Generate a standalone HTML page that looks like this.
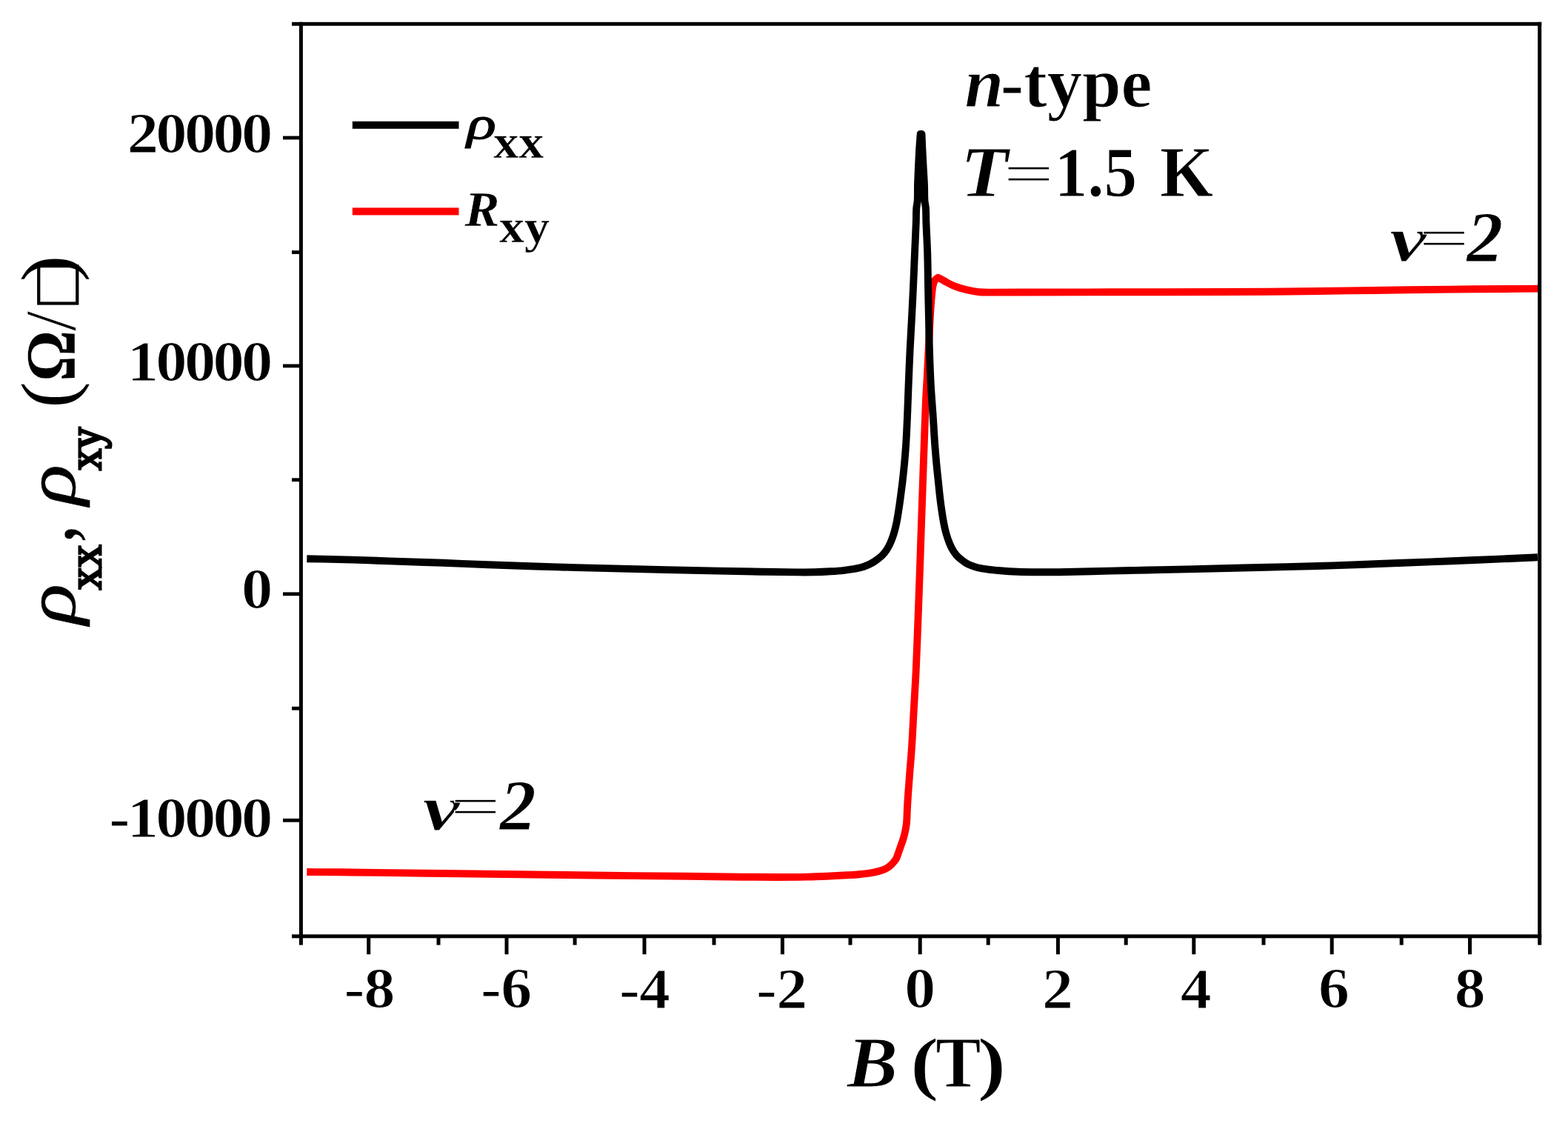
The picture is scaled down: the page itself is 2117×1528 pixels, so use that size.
<!DOCTYPE html>
<html lang="en"><head><meta charset="utf-8"><title>rho_xx and R_xy versus B, n-type, T=1.5 K</title>
<style>html,body{margin:0;padding:0;background:#fff;}body{width:2117px;height:1528px;overflow:hidden;}svg{display:block;}text{fill:#000;}</style></head><body>
<svg width="2117" height="1528" viewBox="0 0 2117 1528" font-family="'Liberation Serif',serif">
<rect x="0" y="0" width="2117" height="1528" fill="#fff"/>
<path d="M414.30,1177.00 C429.53,1177.10 444.58,1177.15 460.00,1177.30 C475.80,1177.45 489.42,1177.67 508.00,1177.90 C533.72,1178.21 568.54,1178.61 600.00,1179.00 C633.12,1179.41 668.34,1179.88 702.00,1180.30 C734.99,1180.71 765.18,1181.11 800.00,1181.50 C839.73,1181.95 891.05,1182.39 927.60,1182.80 C955.13,1183.11 978.09,1183.50 1000.00,1183.70 C1018.20,1183.87 1034.26,1184.03 1050.00,1184.00 C1064.08,1183.97 1078.10,1183.87 1090.00,1183.60 C1099.60,1183.39 1108.66,1183.01 1116.00,1182.70 C1121.38,1182.47 1125.25,1182.25 1130.00,1182.00 C1134.91,1181.75 1140.02,1181.50 1145.00,1181.20 C1149.95,1180.90 1155.33,1180.59 1159.80,1180.20 C1163.52,1179.87 1166.66,1179.54 1170.00,1179.10 C1173.25,1178.67 1176.43,1178.23 1179.60,1177.60 C1182.76,1176.97 1185.98,1176.28 1189.00,1175.30 C1191.94,1174.34 1195.01,1173.26 1197.50,1171.80 C1199.75,1170.48 1201.72,1168.66 1203.40,1167.10 C1204.81,1165.79 1205.90,1164.54 1207.00,1163.20 C1208.06,1161.91 1208.99,1160.90 1209.90,1159.20 C1211.21,1156.76 1212.32,1152.85 1213.50,1149.60 C1214.72,1146.26 1216.02,1142.53 1217.10,1139.40 C1218.02,1136.74 1218.85,1134.49 1219.60,1132.00 C1220.35,1129.52 1221.02,1127.01 1221.60,1124.50 C1222.18,1122.01 1222.68,1119.50 1223.10,1117.00 C1223.51,1114.53 1223.82,1112.67 1224.10,1109.60 C1224.55,1104.60 1224.67,1095.92 1225.00,1089.80 C1225.28,1084.51 1225.57,1079.95 1225.90,1075.00 C1226.23,1070.02 1226.60,1065.36 1227.00,1060.00 C1227.46,1053.81 1227.93,1047.34 1228.50,1040.00 C1229.20,1031.01 1230.13,1021.39 1230.90,1010.00 C1231.92,994.96 1232.84,974.83 1233.80,957.60 C1234.74,940.84 1235.72,926.27 1236.60,908.00 C1237.68,885.45 1238.66,857.28 1239.60,832.40 C1240.52,808.13 1241.45,782.03 1242.20,760.50 C1242.81,742.95 1243.22,729.75 1243.80,712.70 C1244.47,693.08 1245.30,669.44 1246.00,649.40 C1246.63,631.27 1247.15,615.32 1247.80,597.60 C1248.48,578.91 1249.24,556.09 1250.00,540.00 C1250.55,528.38 1251.11,521.01 1251.70,510.00 C1252.43,496.52 1253.23,480.00 1254.00,465.00 C1254.77,450.00 1255.51,432.34 1256.30,420.00 C1256.85,411.36 1257.35,404.30 1258.00,398.00 C1258.49,393.24 1258.78,389.03 1259.60,385.50 C1260.23,382.79 1260.74,380.34 1262.00,378.50 C1263.11,376.88 1264.93,376.03 1266.40,374.80 C1267.77,375.40 1268.95,375.81 1270.50,376.60 C1272.65,377.70 1275.36,379.57 1278.00,381.00 C1280.84,382.54 1283.96,384.19 1287.00,385.50 C1289.96,386.78 1293.03,387.87 1296.00,388.80 C1298.83,389.69 1301.50,390.32 1304.40,391.00 C1307.48,391.72 1310.84,392.44 1314.00,393.00 C1317.04,393.54 1319.52,394.02 1323.00,394.30 C1327.76,394.68 1333.14,394.55 1340.00,394.60 C1350.52,394.68 1363.09,394.54 1380.00,394.50 C1409.28,394.44 1457.77,394.38 1500.00,394.30 C1547.21,394.21 1606.77,394.17 1650.00,394.00 C1682.93,393.87 1708.34,393.77 1737.00,393.50 C1764.99,393.23 1792.59,392.77 1820.00,392.40 C1846.91,392.04 1872.55,391.64 1900.00,391.30 C1929.12,390.94 1960.08,390.58 1990.00,390.30 C2019.75,390.02 2049.33,389.83 2079.00,389.60" fill="none" stroke="#ff0000" stroke-width="9.9" stroke-linejoin="round" stroke-linecap="butt"/>
<path d="M414.30,754.20 C435.10,754.67 457.20,755.02 476.70,755.60 C493.91,756.11 507.47,756.78 525.30,757.40 C547.12,758.16 574.94,758.94 598.10,759.80 C619.25,760.58 636.38,761.47 658.80,762.30 C686.65,763.33 720.99,764.47 752.50,765.40 C784.58,766.34 815.54,767.08 849.60,767.90 C887.41,768.81 936.11,769.90 969.30,770.60 C992.94,771.10 1011.28,771.49 1030.00,771.80 C1046.12,772.07 1062.19,772.34 1075.00,772.40 C1084.55,772.44 1091.97,772.50 1100.00,772.30 C1107.47,772.11 1114.69,771.74 1121.60,771.30 C1127.98,770.89 1134.53,770.39 1140.00,769.80 C1144.43,769.32 1148.26,768.83 1152.00,768.20 C1155.31,767.64 1158.28,767.11 1161.30,766.30 C1164.27,765.50 1167.18,764.55 1170.00,763.40 C1172.81,762.25 1175.64,760.88 1178.20,759.40 C1180.63,758.00 1182.81,756.46 1185.00,754.80 C1187.21,753.13 1189.44,751.42 1191.40,749.40 C1193.41,747.33 1195.26,744.95 1196.90,742.50 C1198.56,740.02 1200.03,737.20 1201.30,734.60 C1202.47,732.20 1203.38,729.94 1204.30,727.50 C1205.25,724.98 1206.11,722.30 1206.90,719.70 C1207.68,717.14 1208.37,714.53 1209.00,712.00 C1209.60,709.57 1210.06,707.55 1210.60,704.80 C1211.32,701.15 1212.12,696.20 1212.80,692.00 C1213.45,687.94 1214.05,683.86 1214.60,680.00 C1215.11,676.41 1215.47,673.64 1216.00,669.60 C1216.74,663.97 1217.79,656.36 1218.60,649.40 C1219.46,641.99 1220.25,634.50 1221.00,626.40 C1221.83,617.34 1222.65,607.84 1223.30,597.60 C1224.05,585.91 1224.56,572.73 1225.10,560.00 C1225.66,546.87 1226.05,533.91 1226.60,520.00 C1227.20,504.82 1227.87,487.60 1228.60,472.40 C1229.28,458.41 1230.09,445.68 1230.80,432.10 C1231.52,418.22 1232.22,404.53 1232.90,390.00 C1233.63,374.41 1234.33,357.04 1235.00,341.50 C1235.62,327.13 1236.41,311.17 1236.80,300.00 C1237.06,292.45 1236.86,286.32 1237.30,281.00 C1237.62,277.13 1238.40,274.96 1238.70,271.00 C1239.14,265.29 1238.80,257.30 1239.00,250.00 C1239.22,242.03 1239.62,233.33 1240.00,225.00 C1240.38,216.67 1240.81,207.76 1241.30,200.00 C1241.73,193.23 1242.23,187.33 1242.70,181.00 L1244.50,181.00 C1244.77,187.33 1244.98,193.23 1245.30,200.00 C1245.67,207.76 1246.15,216.67 1246.60,225.00 C1247.05,233.33 1247.68,242.03 1248.00,250.00 C1248.29,257.30 1248.03,265.29 1248.50,271.00 C1248.82,274.96 1249.58,277.13 1249.90,281.00 C1250.34,286.32 1250.14,292.45 1250.40,300.00 C1250.79,311.17 1251.75,327.13 1252.20,341.50 C1252.68,357.03 1252.79,374.41 1253.10,390.00 C1253.39,404.53 1253.70,418.22 1254.00,432.10 C1254.30,445.68 1254.46,458.41 1254.90,472.40 C1255.37,487.61 1255.97,504.83 1256.80,520.00 C1257.56,533.92 1258.72,546.87 1259.60,560.00 C1260.45,572.73 1261.14,585.90 1262.00,597.60 C1262.75,607.84 1263.55,617.34 1264.40,626.40 C1265.16,634.50 1266.03,641.98 1266.80,649.40 C1267.52,656.35 1268.19,663.44 1268.90,669.60 C1269.50,674.81 1269.96,678.75 1270.70,684.00 C1271.60,690.35 1272.77,698.61 1274.00,705.00 C1275.04,710.44 1276.00,715.08 1277.40,720.00 C1278.80,724.91 1280.69,730.43 1282.40,734.50 C1283.71,737.61 1284.90,740.01 1286.40,742.50 C1287.84,744.89 1289.42,747.14 1291.20,749.20 C1292.96,751.24 1294.95,753.09 1297.00,754.80 C1299.02,756.49 1301.12,758.01 1303.40,759.40 C1305.77,760.85 1308.31,762.17 1311.00,763.30 C1313.83,764.49 1316.63,765.46 1320.00,766.30 C1324.12,767.33 1329.17,768.04 1334.00,768.70 C1339.14,769.40 1344.15,769.82 1350.00,770.30 C1357.08,770.88 1365.43,771.47 1373.50,771.80 C1382.06,772.15 1390.26,772.24 1400.00,772.30 C1411.97,772.37 1425.43,772.23 1440.00,772.00 C1457.54,771.72 1479.19,771.03 1498.00,770.60 C1515.81,770.20 1532.67,769.87 1550.00,769.50 C1567.33,769.13 1581.99,768.86 1602.00,768.40 C1629.33,767.77 1666.34,766.82 1699.00,766.00 C1732.33,765.16 1770.42,764.35 1800.00,763.40 C1823.18,762.65 1840.74,761.81 1862.00,761.00 C1884.51,760.14 1909.33,759.27 1931.50,758.40 C1951.84,757.60 1969.63,756.85 1990.00,756.00 C2012.29,755.07 2044.91,753.70 2060.00,753.00 C2067.22,752.66 2070.67,752.47 2076.00,752.20" fill="none" stroke="#000" stroke-width="9.9" stroke-linejoin="round" stroke-linecap="butt"/>
<g fill="#000">
<rect x="394" y="29.80" width="1687.20" height="5.0"/>
<rect x="394" y="1261.30" width="1687.20" height="5.0"/>
<rect x="403.90" y="29.80" width="5.0" height="1245.80"/>
<rect x="2076.20" y="29.80" width="5.0" height="1245.80"/>
<rect x="382" y="183.60" width="24.40" height="4.8"/>
<rect x="382" y="491.50" width="24.40" height="4.8"/>
<rect x="382" y="799.40" width="24.40" height="4.8"/>
<rect x="382" y="1104.90" width="24.40" height="4.8"/>
<rect x="394" y="338.10" width="12.40" height="4.8"/>
<rect x="394" y="645.30" width="12.40" height="4.8"/>
<rect x="394" y="953.80" width="12.40" height="4.8"/>
<rect x="495.20" y="1263.80" width="5" height="24.40"/>
<rect x="681.50" y="1263.80" width="5" height="24.40"/>
<rect x="867.50" y="1263.80" width="5" height="24.40"/>
<rect x="1053.90" y="1263.80" width="5" height="24.40"/>
<rect x="1239.70" y="1263.80" width="5" height="24.40"/>
<rect x="1425.90" y="1263.80" width="5" height="24.40"/>
<rect x="1609.30" y="1263.80" width="5" height="24.40"/>
<rect x="1795.70" y="1263.80" width="5" height="24.40"/>
<rect x="1982.00" y="1263.80" width="5" height="24.40"/>
<rect x="589.50" y="1263.80" width="5" height="11.80"/>
<rect x="773.60" y="1263.80" width="5" height="11.80"/>
<rect x="961.50" y="1263.80" width="5" height="11.80"/>
<rect x="1145.50" y="1263.80" width="5" height="11.80"/>
<rect x="1331.70" y="1263.80" width="5" height="11.80"/>
<rect x="1517.70" y="1263.80" width="5" height="11.80"/>
<rect x="1703.50" y="1263.80" width="5" height="11.80"/>
<rect x="1889.70" y="1263.80" width="5" height="11.80"/>
</g>
<text transform="translate(171.74,205.89) scale(1.0900,1)" font-size="77.60" font-weight="bold" letter-spacing="-3.4" stroke="#fff" stroke-width="1.1">20000</text>
<text transform="translate(171.74,513.59) scale(1.0900,1)" font-size="77.60" font-weight="bold" letter-spacing="-3.4" stroke="#fff" stroke-width="1.1">10000</text>
<text transform="translate(326.08,821.49) scale(1.0900,1)" font-size="77.60" font-weight="bold" letter-spacing="-3.4" stroke="#fff" stroke-width="1.1">0</text>
<text transform="translate(147.27,1129.59) scale(1.0900,1)" font-size="77.60" font-weight="bold" letter-spacing="-3.4" stroke="#fff" stroke-width="1.1">-10000</text>
<text transform="translate(464.48,1360.39) scale(1.0800,1)" font-size="77.60" font-weight="bold" letter-spacing="-0.8" stroke="#fff" stroke-width="1.1">-8</text>
<text transform="translate(649.12,1360.39) scale(1.0800,1)" font-size="77.60" font-weight="bold" letter-spacing="-0.8" stroke="#fff" stroke-width="1.1">-6</text>
<text transform="translate(836.07,1361.15) scale(1.0800,1)" font-size="77.60" font-weight="bold" letter-spacing="-0.8" stroke="#fff" stroke-width="1.1">-4</text>
<text transform="translate(1021.09,1361.15) scale(1.0800,1)" font-size="77.60" font-weight="bold" letter-spacing="-0.8" stroke="#fff" stroke-width="1.1">-2</text>
<text transform="translate(1221.35,1360.39) scale(1.0800,1)" font-size="77.60" font-weight="bold" letter-spacing="-0.8" stroke="#fff" stroke-width="1.1">0</text>
<text transform="translate(1407.09,1361.15) scale(1.0800,1)" font-size="77.60" font-weight="bold" letter-spacing="-0.8" stroke="#fff" stroke-width="1.1">2</text>
<text transform="translate(1593.85,1361.15) scale(1.0800,1)" font-size="77.60" font-weight="bold" letter-spacing="-0.8" stroke="#fff" stroke-width="1.1">4</text>
<text transform="translate(1780.04,1360.39) scale(1.0800,1)" font-size="77.60" font-weight="bold" letter-spacing="-0.8" stroke="#fff" stroke-width="1.1">6</text>
<text transform="translate(1963.85,1360.39) scale(1.0800,1)" font-size="77.60" font-weight="bold" letter-spacing="-0.8" stroke="#fff" stroke-width="1.1">8</text>
<text><tspan x="1143.65" y="1467.10" font-size="97.00" font-weight="bold" font-style="italic" textLength="68.26" lengthAdjust="spacingAndGlyphs" stroke="#fff" stroke-width="1">B</tspan> <tspan x="1229.03" y="1466.80" font-size="94.50" font-weight="bold" textLength="38.39" lengthAdjust="spacingAndGlyphs" stroke="#fff" stroke-width="1">(</tspan><tspan x="1263.17" y="1467.10" font-size="97.00" font-weight="bold" textLength="61.14" lengthAdjust="spacingAndGlyphs" stroke="#fff" stroke-width="1">T</tspan><tspan x="1319.68" y="1466.80" font-size="94.50" font-weight="bold" textLength="38.39" lengthAdjust="spacingAndGlyphs" stroke="#fff" stroke-width="1">)</tspan></text>
<text><tspan x="1302.46" y="143.60" font-size="94.50" font-weight="bold" font-style="italic" stroke="#fff" stroke-width="1">n</tspan><tspan x="1350.74" y="143.60" font-size="94.50" font-weight="bold" stroke="#fff" stroke-width="1">-type</tspan></text>
<text><tspan x="1296.74" y="265.30" font-size="97.50" font-weight="bold" font-style="italic" textLength="64.32" lengthAdjust="spacingAndGlyphs" stroke="#fff" stroke-width="1">T</tspan><tspan x="1354.88" y="258.85" font-size="73.93" font-weight="normal" textLength="68.03" lengthAdjust="spacingAndGlyphs" stroke="#fff" stroke-width="1">=</tspan><tspan x="1423.65" y="265.30" font-size="96.00" font-weight="bold" textLength="111.60" lengthAdjust="spacingAndGlyphs" stroke="#fff" stroke-width="1">1.5</tspan> <tspan x="1565.92" y="265.30" font-size="97.50" font-weight="bold" textLength="72.05" lengthAdjust="spacingAndGlyphs" stroke="#fff" stroke-width="1">K</tspan></text>
<text><tspan x="1876.25" y="352.26" font-size="86.00" font-weight="bold" font-style="italic" textLength="50.00" lengthAdjust="spacingAndGlyphs" stroke="#fff" stroke-width="1">ν</tspan><tspan x="1915.58" y="346.05" font-size="73.93" font-weight="normal" textLength="68.03" lengthAdjust="spacingAndGlyphs" stroke="#fff" stroke-width="1">=</tspan><tspan x="1980.20" y="352.90" font-size="98.00" font-weight="bold" font-style="italic" stroke="#fff" stroke-width="1">2</tspan></text>
<text><tspan x="570.75" y="1119.66" font-size="86.00" font-weight="bold" font-style="italic" textLength="50.00" lengthAdjust="spacingAndGlyphs" stroke="#fff" stroke-width="1">ν</tspan><tspan x="607.68" y="1113.20" font-size="73.93" font-weight="normal" textLength="68.03" lengthAdjust="spacingAndGlyphs" stroke="#fff" stroke-width="1">=</tspan><tspan x="674.70" y="1120.30" font-size="98.00" font-weight="bold" font-style="italic" stroke="#fff" stroke-width="1">2</tspan></text>
<rect x="475.8" y="163.8" width="143.7" height="10" fill="#000"/>
<rect x="475.8" y="280.4" width="143.7" height="10" fill="#ff0000"/>
<text><tspan x="630.29" y="187.30" font-size="62.00" font-style="italic" textLength="39.58" lengthAdjust="spacingAndGlyphs" stroke="#000" stroke-width="1.2">ρ</tspan><tspan x="666.33" y="213.00" font-size="63.50" font-weight="bold" textLength="67.95" lengthAdjust="spacingAndGlyphs" stroke="#fff" stroke-width="0.4">xx</tspan></text>
<text><tspan x="627.50" y="305.30" font-size="68.00" font-weight="bold" font-style="italic" textLength="46.94" lengthAdjust="spacingAndGlyphs" stroke="#fff" stroke-width="0.4">R</tspan><tspan x="674.04" y="326.80" font-size="63.00" font-weight="bold" textLength="67.72" lengthAdjust="spacingAndGlyphs" stroke="#fff" stroke-width="0.4">xy</tspan></text>
<text transform="rotate(-90)"><tspan x="-843.05" y="101.00" font-size="96.00" font-style="italic" textLength="54.83" lengthAdjust="spacingAndGlyphs" stroke="#000" stroke-width="0.7">ρ</tspan><tspan x="-795.93" y="136.40" font-size="63.00" textLength="60.48" lengthAdjust="spacingAndGlyphs" stroke="#000" stroke-width="3">xx</tspan><tspan x="-730.36" y="101.00" font-size="96.00" font-weight="bold" textLength="19.20" lengthAdjust="spacingAndGlyphs" stroke="#fff" stroke-width="0.5">,</tspan> <tspan x="-681.95" y="101.00" font-size="96.00" font-style="italic" textLength="54.83" lengthAdjust="spacingAndGlyphs" stroke="#000" stroke-width="0.7">ρ</tspan><tspan x="-634.81" y="136.40" font-size="63.00" textLength="58.28" lengthAdjust="spacingAndGlyphs" stroke="#000" stroke-width="3">xy</tspan> <tspan x="-550.68" y="99.00" font-size="101.50" textLength="35.49" lengthAdjust="spacingAndGlyphs">(</tspan><tspan x="-515.12" y="101.00" font-size="96.00" font-weight="bold" textLength="69.19" lengthAdjust="spacingAndGlyphs" stroke="#fff" stroke-width="0.4">Ω</tspan><tspan x="-447.00" y="101.00" font-size="97.92" stroke="#fff" stroke-width="0.8">/</tspan><tspan x="-411.36" y="106.00" font-size="93.00" textLength="54.49" lengthAdjust="spacingAndGlyphs" stroke="#000" stroke-width="0.8">□</tspan><tspan x="-380.23" y="99.00" font-size="101.50" textLength="35.49" lengthAdjust="spacingAndGlyphs">)</tspan></text>
</svg></body></html>
